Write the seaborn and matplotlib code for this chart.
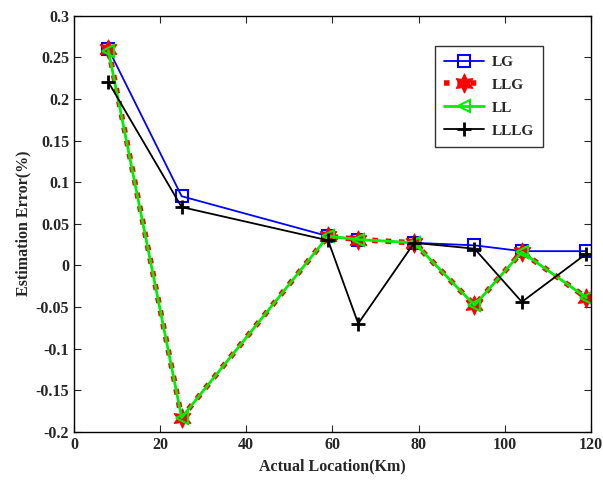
import pandas as pd
import matplotlib
matplotlib.use("Agg")
import matplotlib.pyplot as plt
import seaborn as sns

locations = [8, 25, 59, 66, 79, 93, 104, 119]
lg = [0.26, 0.083, 0.035, 0.031, 0.027, 0.024, 0.017, 0.017]
llg = [0.26, -0.183, 0.035, 0.031, 0.027, -0.048, 0.016, -0.039]
ll = [0.258, -0.183, 0.035, 0.031, 0.027, -0.048, 0.016, -0.039]
lllg = [0.22, 0.07, 0.03, -0.07, 0.027, 0.02, -0.044, 0.014]

sns.set_style("ticks")
plt.rcParams["font.family"] = ["Liberation Serif", "DejaVu Serif"]
plt.rcParams["font.weight"] = "bold"

fig = plt.figure(figsize=(6.03, 4.8), dpi=100)
ax = fig.add_axes([0.1227, 0.1006, 0.857, 0.8667])

sns.lineplot(x=locations, y=lg, ax=ax, color="blue", linewidth=1.3,
             marker="s", markersize=8, markerfacecolor="none",
             markeredgecolor="blue", markeredgewidth=1.5, label="LG")
sns.lineplot(x=locations, y=llg, ax=ax, color="red", linewidth=4,
             linestyle=(0, (1, 1.4)), marker=(6, 1, 0), markersize=14,
             markerfacecolor="red", markeredgecolor="red", label="LLG")
sns.lineplot(x=locations, y=ll, ax=ax, color="#00ee00", linewidth=2,
             marker="<", markersize=8, markerfacecolor="none",
             markeredgecolor="#00ee00", markeredgewidth=1.5, label="LL")
sns.lineplot(x=locations, y=lllg, ax=ax, color="black", linewidth=1.3,
             marker="+", markersize=10, markeredgewidth=2,
             markeredgecolor="black", label="LLLG")

ax.set_xlim(0, 120)
ax.set_ylim(-0.2, 0.3)
ax.set_xticks(range(0, 121, 20))
ax.set_yticks([-0.2, -0.15, -0.1, -0.05, 0, 0.05, 0.1, 0.15, 0.2, 0.25, 0.3])
ax.set_yticklabels(["-0.2", "-0.15", "-0.1", "-0.05", "0", "0.05", "0.1",
                    "0.15", "0.2", "0.25", "0.3"])
ax.tick_params(direction="in", top=True, right=True, labelsize=11.5, length=5)
for lab in ax.get_xticklabels() + ax.get_yticklabels():
    lab.set_fontweight("bold")
for s in ax.spines.values():
    s.set_linewidth(1)
    s.set_color("black")

ax.set_xlabel("Actual Location(Km)", fontsize=11.5, fontweight="bold")
ax.set_ylabel("Estimation Error(%)", fontsize=11.5, fontweight="bold", labelpad=3)

leg = ax.legend(loc="upper right", bbox_to_anchor=(0.907, 0.927), fancybox=False,
                edgecolor="black", prop={"size": 11, "weight": "bold"},
                handlelength=2.6, borderpad=0.6, labelspacing=0.6,
                handletextpad=0.5, borderaxespad=0)
leg.get_frame().set_linewidth(1)

plt.savefig("out.png", dpi=100)
